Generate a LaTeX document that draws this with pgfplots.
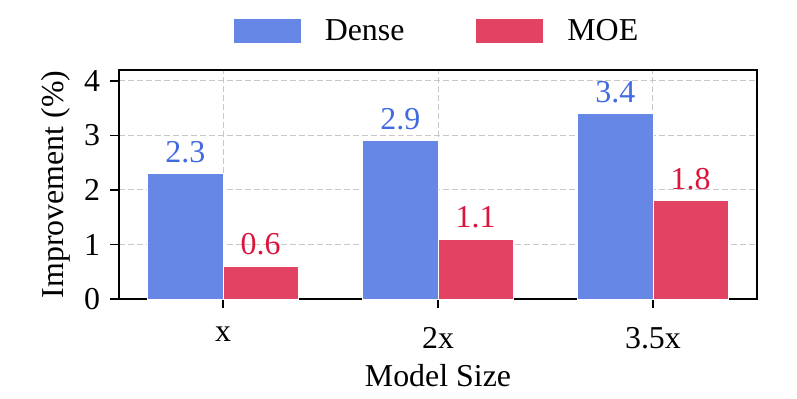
\documentclass[border=0pt]{standalone}
\usepackage{pgfplots}
\pgfplotsset{compat=1.18}
\usepackage{fontspec}
\setmainfont{Liberation Serif}
\definecolor{densefill}{HTML}{6787E7}
\definecolor{moefill}{HTML}{E34363}
\definecolor{densetext}{HTML}{4169E1}
\definecolor{moetext}{HTML}{DC143C}
\definecolor{gridgray}{HTML}{C8C8C8}

\begin{document}
\begin{tikzpicture}
\begin{axis}[
  name=ax,
  scale only axis,
  width=319bp, height=114.5bp,
  font=\fontsize{16}{19}\selectfont,
  /pgf/number format/assume math mode=true,
  ybar,
  bar width=0.35,
  xmin=-0.484, xmax=2.484,
  ymin=0, ymax=4.2,
  xtick={0,1,2},
  xticklabels={x,2x,3.5x},
  ytick={0,1,2,3,4},
  tick align=outside,
  tick pos=left,
  major tick length=4.5bp,
  xticklabel shift=6bp,
  yticklabel shift=1.5bp,
  tick style={black, line width=0.8pt},
  axis line style={black, line width=0.9pt},
  grid=major,
  major grid style={gridgray, dash pattern=on 3bp off 1.5bp, line width=0.5pt},
  xlabel={Model Size},
  ylabel={Improvement (\%)},
  xlabel style={yshift=-1bp},
  clip=false,
  nodes near coords,
  nodes near coords style={font=\fontsize{16}{19}\selectfont, anchor=south, yshift=2bp},
  legend columns=2,
  legend style={at={(0.5,1.17)}, anchor=center, draw=none, fill=none,
    font=\fontsize{16}{19}\selectfont,
    /tikz/every odd column/.append style={column sep=10bp},
    /tikz/every even column/.append style={column sep=34bp}},
  legend image code/.code={\draw[#1, draw=none] (0bp,-6bp) rectangle (33.5bp,6bp);},
]
\addplot[fill=densefill, draw=white, line width=0.4pt, bar shift=-0.175,
  every node near coord/.append style={text=densetext}]
  coordinates {(0,2.3) (1,2.9) (2,3.4)};
\addlegendentry{Dense}
\addplot[fill=moefill, draw=white, line width=0.4pt, bar shift=0.175,
  every node near coord/.append style={text=moetext}]
  coordinates {(0,0.6) (1,1.1) (2,1.8)};
\addlegendentry{MOE}
\end{axis}
\path (ax.south west) ++(-59.5bp,-50bp) rectangle ([xshift=20bp,yshift=35bp]ax.north east);
\end{tikzpicture}
\end{document}
